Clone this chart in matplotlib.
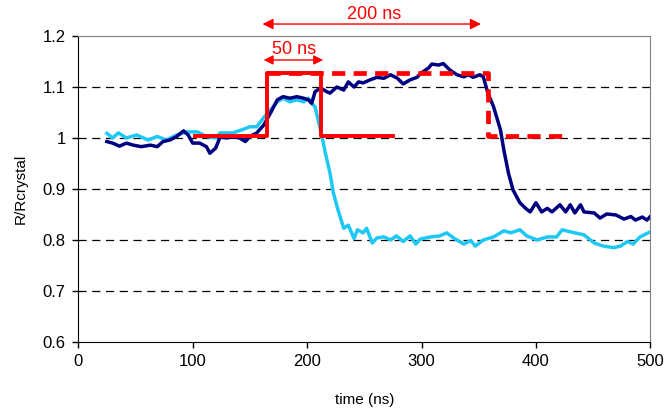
import matplotlib
matplotlib.use("Agg")
import matplotlib.pyplot as plt

t_dark = [25, 30, 36, 42, 48, 55, 63, 69, 74, 80, 86, 92, 96, 100, 106, 112, 115, 120,
          124, 130, 135, 141, 146, 150, 156, 162, 168, 174, 179, 185, 191, 197, 201, 204,
          207, 212, 217, 220, 226, 232, 236, 241, 245, 249, 255, 261, 267, 273, 279, 284,
          290, 296, 300, 306, 309, 315, 319, 325, 331, 337, 341, 345, 351, 354, 358, 363,
          369, 372, 376, 380, 386, 391, 395, 400, 405, 410, 414, 421, 426, 430, 434, 439,
          442, 451, 456, 462, 470, 477, 483, 487, 493, 497, 500]
r_dark = [0.993, 0.990, 0.984, 0.990, 0.986, 0.983, 0.986, 0.983, 0.993, 0.996, 1.003,
          1.014, 1.006, 0.990, 0.990, 0.983, 0.970, 0.980, 1.002, 1.000, 1.003, 1.000,
          0.993, 1.003, 1.010, 1.025, 1.049, 1.075, 1.081, 1.078, 1.081, 1.078, 1.075,
          1.068, 1.091, 1.098, 1.091, 1.088, 1.100, 1.094, 1.110, 1.100, 1.110, 1.108,
          1.114, 1.119, 1.117, 1.124, 1.117, 1.106, 1.114, 1.119, 1.128, 1.137, 1.145,
          1.143, 1.146, 1.133, 1.124, 1.120, 1.124, 1.119, 1.124, 1.120, 1.088, 1.061,
          1.016, 0.976, 0.931, 0.898, 0.873, 0.862, 0.855, 0.873, 0.855, 0.862, 0.855,
          0.869, 0.855, 0.869, 0.853, 0.869, 0.855, 0.853, 0.843, 0.851, 0.849, 0.841,
          0.846, 0.839, 0.845, 0.839, 0.846]

t_light = [25, 30, 35, 42, 51, 61, 69, 77, 86, 95, 104, 112, 120, 124, 135, 143, 150, 156,
           162, 168, 174, 179, 185, 191, 197, 201, 204, 207, 211, 213, 216, 220, 223, 227,
           232, 236, 241, 244, 249, 252, 257, 261, 267, 273, 278, 284, 290, 295, 299, 308,
           316, 322, 328, 337, 343, 347, 354, 363, 372, 378, 386, 392, 401, 410, 418, 423,
           430, 442, 451, 459, 468, 474, 480, 485, 491, 500]
r_light = [1.009, 1.000, 1.010, 1.000, 1.006, 0.996, 1.003, 0.996, 1.006, 1.012, 1.012,
           1.003, 1.000, 1.010, 1.010, 1.016, 1.022, 1.022, 1.040, 1.055, 1.071, 1.078,
           1.071, 1.075, 1.071, 1.078, 1.068, 1.061, 1.022, 1.003, 0.970, 0.931, 0.892,
           0.859, 0.823, 0.829, 0.803, 0.820, 0.814, 0.823, 0.794, 0.804, 0.806, 0.800,
           0.808, 0.797, 0.808, 0.792, 0.802, 0.806, 0.808, 0.814, 0.804, 0.792, 0.799,
           0.788, 0.800, 0.806, 0.818, 0.814, 0.820, 0.808, 0.800, 0.806, 0.806, 0.820,
           0.816, 0.810, 0.794, 0.788, 0.785, 0.788, 0.797, 0.792, 0.806, 0.816]

# heating pulses (50 ns solid, 200 ns dashed)
t_pulse50 = [102, 165, 165, 212, 212, 275]
r_pulse50 = [1.004, 1.004, 1.128, 1.128, 1.004, 1.004]
t_pulse200 = [165, 358, 358, 423]
r_pulse200 = [1.128, 1.128, 1.004, 1.004]

x_ticks = [0, 100, 200, 300, 400, 500]
y_ticks = [0.6, 0.7, 0.8, 0.9, 1.0, 1.1, 1.2]
y_ticklabels = ["0.6", "0.7", "0.8", "0.9", "1", "1.1", "1.2"]

plt.rcParams['font.family'] = ['Liberation Sans', 'DejaVu Sans']

fig = plt.figure(figsize=(6.67, 4.12), dpi=100)
ax = fig.add_axes([0.1174, 0.170, 0.8576, 0.7426])

# grid
for y in y_ticks[1:-1]:
    ax.axhline(y, color="black", lw=0.9, ls=(0, (6.5, 4.5)), zorder=1)

ax.plot(t_dark, r_dark, color="#000080", lw=2.5, zorder=3)
ax.plot(t_light, r_light, color="#1EC8F5", lw=2.5, zorder=2)

lw_d = 3.4
ax.plot(t_pulse200, r_pulse200, color="red", lw=lw_d,
        ls=(0, (9.5 / lw_d, 6.0 / lw_d)), zorder=4)
ax.plot(t_pulse50, r_pulse50, color="red", lw=2.8, zorder=5)

# arrows and labels
ax.annotate("", xy=(161, 1.2235), xytext=(352, 1.2235), xycoords="data",
            arrowprops=dict(arrowstyle="<|-|>", color="red", lw=1.0,
                            mutation_scale=16, shrinkA=0, shrinkB=0),
            annotation_clip=False)
ax.text(259, 1.226, "200 ns", color="red", fontsize=13, ha="center", va="bottom",
        clip_on=False)
ax.annotate("", xy=(162, 1.153), xytext=(214, 1.153), xycoords="data",
            arrowprops=dict(arrowstyle="<|-|>", color="red", lw=1.0,
                            mutation_scale=14, shrinkA=0, shrinkB=0),
            annotation_clip=False)
ax.text(189, 1.156, "50 ns", color="red", fontsize=13, ha="center", va="bottom")

ax.set_xlim(0, 500)
ax.set_ylim(0.6, 1.2)
ax.set_xticks(x_ticks)
ax.set_yticks(y_ticks)
ax.set_yticklabels(y_ticklabels)
ax.tick_params(direction="out", length=4, width=1, labelsize=12, pad=5)
ax.spines["top"].set_color("#808080")
ax.spines["right"].set_color("#808080")
for s in ["left", "bottom"]:
    ax.spines[s].set_color("black")

ax.set_xlabel("time (ns)", fontsize=11, labelpad=17)
ax.set_ylabel("R/Rcrystal", fontsize=11, labelpad=11)

fig.savefig("out.png", dpi=100)
